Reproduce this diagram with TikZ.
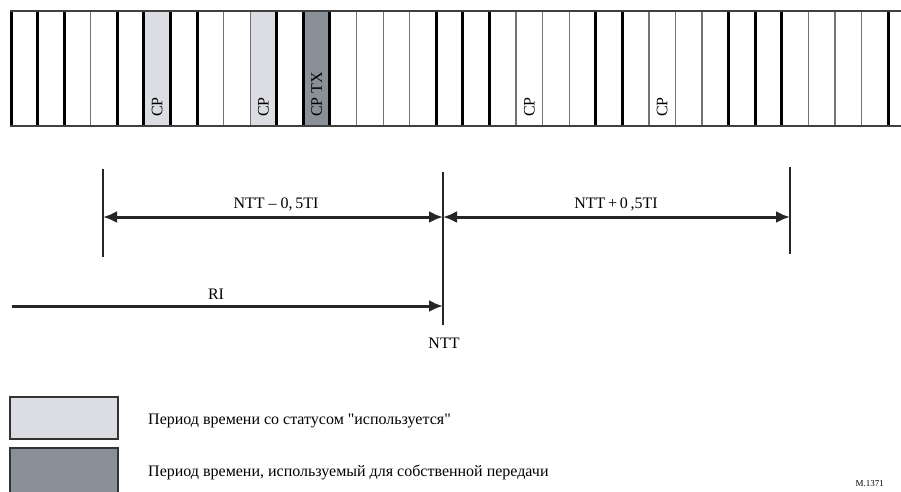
\documentclass[tikz,border=0pt]{standalone}
\usepackage{fontspec}
\setmainfont{Liberation Serif}[Ligatures=TeXOff]
\usetikzlibrary{arrows.meta}
\definecolor{usedgrey}{RGB}{220,221,226}
\definecolor{txgrey}{RGB}{138,144,152}

\begin{document}
\begin{tikzpicture}[x=1pt, y=-1pt, >={Latex[length=14pt,width=12pt]},
  every node/.style={font=\fontsize{16}{18}\selectfont, inner sep=0pt},
  slotthick/.style={line width=3pt, black},
  slotthin/.style={line width=1.2pt, black!55},
  tick/.style={line width=1.3pt, black!85},
  span/.style={line width=3pt, black!85}]
  \useasboundingbox (0,0) rectangle (901,491);
  \def\sw{26.58}
  % filled slots
  \fill[usedgrey] (11+5*\sw,11) rectangle (11+6*\sw,126);
  \fill[usedgrey] (11+9*\sw,11) rectangle (11+10*\sw,126);
  \fill[txgrey] (11+11*\sw,11) rectangle (11+12*\sw,126);
  % slot borders
  \foreach \i in {0,1,2,4,5,6,7,10,11,12,16,17,18,22,23,27,28,29,33}
    \draw[slotthick] (11+\i*\sw,11) -- (11+\i*\sw,126);
  \foreach \i in {3,8,9,13,14,15,19,20,21,24,25,26,30,31,32}
    \draw[slotthin] (11+\i*\sw,11) -- (11+\i*\sw,126);
  \draw[line width=1.8pt, black!75] (10,11) -- (901,11);
  \draw[line width=1.8pt, black!75] (10,126) -- (901,126);
  % CP labels
  \node[rotate=90, anchor=west] (cpa) at (11+5.5*\sw,117) {CP};
  \node[rotate=90, anchor=west] (cpb) at (11+9.5*\sw,117) {CP};
  \node[rotate=90, anchor=west] (cptx) at (11+11.5*\sw,117) {CP TX};
  \node[rotate=90, anchor=west] (cpc) at (11+19.5*\sw,117) {CP};
  \node[rotate=90, anchor=west] (cpd) at (11+24.5*\sw,117) {CP};
  % ticks
  \coordinate (lotop) at (103,169);
  \coordinate (lobot) at (103,257);
  \coordinate (ntttop) at (443,172);
  \coordinate (nttbot) at (443,325);
  \coordinate (hitop) at (790,167);
  \coordinate (hibot) at (790,254);
  \draw[tick] (lotop) -- (lobot);
  \draw[tick] (ntttop) -- (nttbot);
  \draw[tick] (hitop) -- (hibot);
  % spans
  \coordinate (lo) at (103,217);
  \coordinate (ntt) at (443,217);
  \coordinate (hi) at (790,217);
  \draw[span, <->] (lo) -- (ntt);
  \draw[span, <->] (ntt) -- (hi);
  \node (minus) at (276,204) {NTT – 0,\,5TI};
  \node (plus) at (616,204) {NTT\,+\,0\,,5TI};
  % RI
  \coordinate (rista) at (12,306);
  \coordinate (riend) at (443,306);
  \draw[span, ->] (rista) -- (riend);
  \node (ri) at (216,294) {RI};
  \node (nttlbl) at (444,343) {NTT};
  % legend
  \draw[line width=1.3pt, black!80, fill=usedgrey] (10,397) rectangle (118,439);
  \node[anchor=west] (usedtxt) at (148,421) {Период времени со статусом "используется"};
  \draw[line width=1.3pt, black!80, fill=txgrey] (10,448) rectangle (118,496);
  \node[anchor=west] (txtxt) at (148,472) {Период времени, используемый для собственной передачи};
  \node[anchor=east, font=\fontsize{9}{10}\selectfont] (fig) at (884,484) {M.1371};
\end{tikzpicture}
\end{document}
